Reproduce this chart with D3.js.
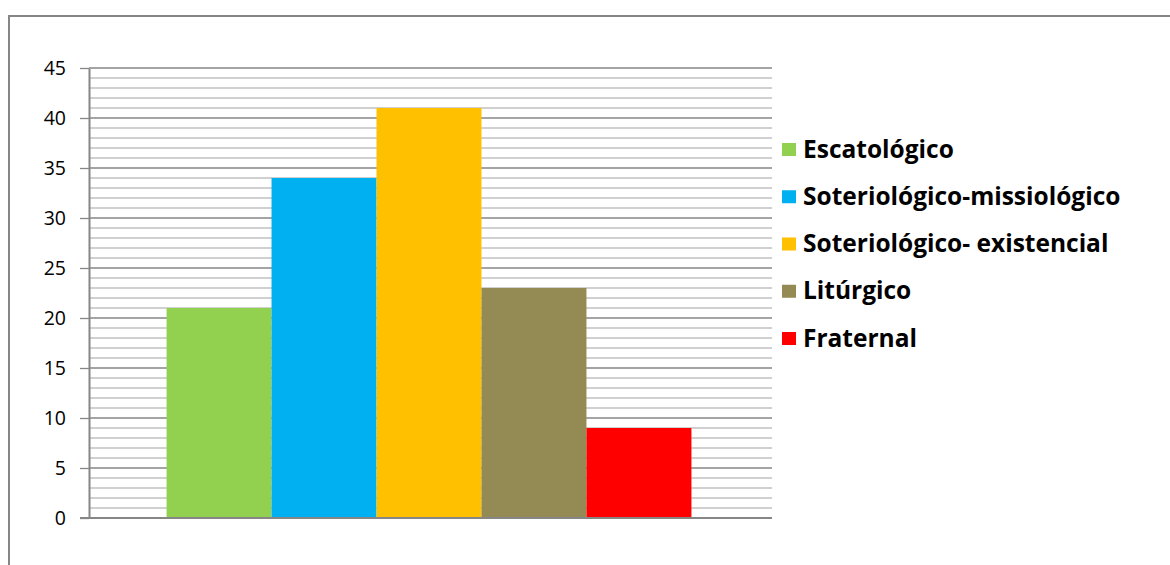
<!DOCTYPE html>
<html><head><meta charset="utf-8">
<script src="https://cdn.jsdelivr.net/npm/d3@7"></script>
<style>
html,body{margin:0;padding:0;background:#fff;}
svg{display:block;}
</style></head>
<body>
<svg id="chart" width="1170" height="565"></svg>
<script>
const categories = ["Categoria"];
const seriesNames = ["Escatológico", "Soteriológico-missiológico", "Soteriológico- existencial", "Litúrgico", "Fraternal"];
const seriesValues = [21, 34, 41, 23, 9];
const seriesColors = ["#92D050", "#00B0F0", "#FFC000", "#948A54", "#FF0000"];
const yTicks = [0, 5, 10, 15, 20, 25, 30, 35, 40, 45];
const yMinorTicks = d3.range(0, 46, 1);

const svg = d3.select("#chart");
const font = "'Open Sans', Lato, 'Liberation Sans', sans-serif";

// outer border (top and left visible)
svg.append("path").attr("d", "M9,565 L9,16 L1170,16")
  .attr("fill","none").attr("stroke","#868686").attr("stroke-width",2);

const plot = {left: 89, right: 772, top: 68, bottom: 518};
const y = d3.scaleLinear().domain([0,45]).range([plot.bottom, plot.top]);
const x0 = d3.scaleBand().domain(categories).range([plot.left - 1, plot.right - 2]).paddingInner(0).paddingOuter(0.1497);
const x1 = d3.scaleBand().domain(seriesNames).range([0, x0.bandwidth()]).padding(0);

// minor gridlines
svg.append("g").selectAll("line").data(yMinorTicks.filter(v => v % 5 !== 0)).join("line")
  .attr("x1", plot.left).attr("x2", plot.right)
  .attr("y1", d => y(d)).attr("y2", d => y(d))
  .attr("stroke", "#c0c0c0").attr("stroke-width", 1.3);
// major gridlines
svg.append("g").selectAll("line").data(yTicks.filter(v => v > 0)).join("line")
  .attr("x1", plot.left).attr("x2", plot.right)
  .attr("y1", d => y(d)).attr("y2", d => y(d))
  .attr("stroke", "#868686").attr("stroke-width", 1.3);

// bars
svg.append("g").selectAll("rect").data(seriesNames.map((n,i)=>({n, v: seriesValues[i], c: seriesColors[i]}))).join("rect")
  .attr("x", d => x0(categories[0]) + x1(d.n))
  .attr("width", x1.bandwidth())
  .attr("y", d => y(d.v))
  .attr("height", d => y(0) - y(d.v))
  .attr("fill", d => d.c);

// y axis
const yAxis = d3.axisLeft(y).tickValues(yTicks).tickSize(9).tickPadding(14).tickSizeOuter(0);
const ga = svg.append("g").attr("transform", `translate(${plot.left},0)`).call(yAxis);
ga.select(".domain").attr("stroke", "#868686").attr("stroke-width", 2);
ga.selectAll(".tick line").attr("stroke", "#868686").attr("stroke-width", 1.3);
ga.selectAll(".tick text").attr("font-family", font).attr("font-size", 19.5).attr("fill", "#000");

// x axis baseline
svg.append("line").attr("x1", plot.left - 9).attr("x2", plot.right)
  .attr("y1", y(0)).attr("y2", y(0)).attr("stroke", "#868686").attr("stroke-width", 2);

// legend
const legendY = d3.scalePoint().domain(seriesNames).range([149, 338]);
const lg = svg.append("g");
const items = lg.selectAll("g").data(seriesNames).join("g")
  .attr("transform", d => `translate(782,${legendY(d)})`);
items.append("rect").attr("x", 0).attr("y", -6).attr("width", 14).attr("height", 13)
  .attr("fill", (d,i) => seriesColors[i]);
items.append("text").attr("x", 21).attr("y", 0).attr("dy", "0.35em")
  .attr("font-family", font).attr("font-weight", "bold").attr("font-size", 24.5).attr("fill", "#000")
  .text(d => d);
</script>
</body></html>
